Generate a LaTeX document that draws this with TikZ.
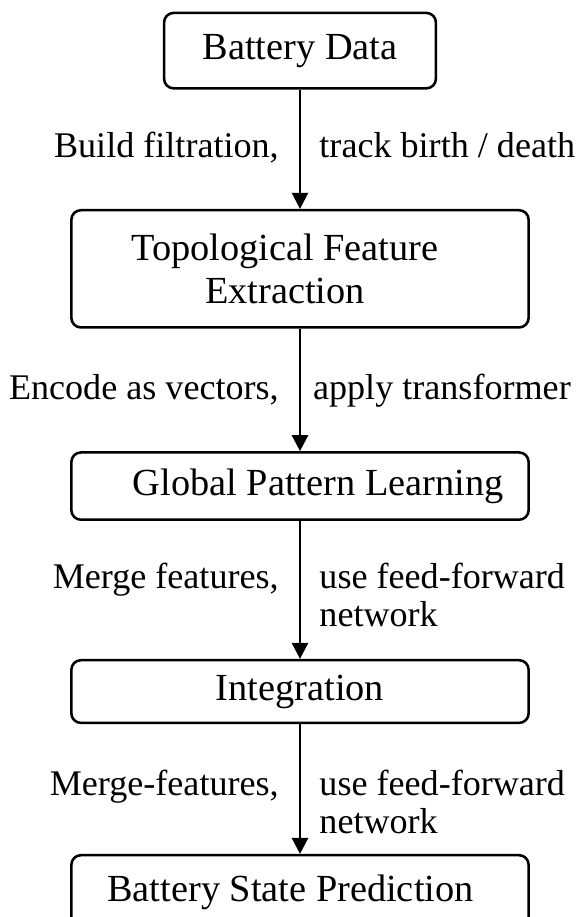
\documentclass[tikz,border=0pt]{standalone}
\usepackage{fontspec}
\setmainfont{Liberation Serif}
\usetikzlibrary{arrows.meta}

\tikzset{
    stagebox/.style={draw, rounded corners=3pt, inner sep=0pt, align=center,
        font=\fontsize{12}{13.5}\selectfont},
    steplabel/.style={inner sep=0pt, font=\fontsize{11.3}{11.8}\selectfont},
}

\begin{document}
\begin{tikzpicture}[>={Triangle[length=5pt, width=5pt]}, thick]

        \useasboundingbox (-3.3, 0) rectangle (3.102, 10.087);

        % Khoi du lieu dau vao
        \node[stagebox, minimum width=2.99cm, minimum height=0.83cm] (data) at (0, 9.53) {Battery Data};

        % Trich xuat dac trung topo
        \node[stagebox, minimum width=5.03cm, minimum height=1.29cm] (topo) at (0, 7.13) {
            Topological Feature\hspace*{0.33cm} \\ Extraction\hspace*{0.33cm}
        };

        % Hoc mau toan cuc
        \node[stagebox, minimum width=5.03cm, minimum height=0.74cm] (global) at (0, 4.74) {\hspace*{0.4cm}Global Pattern Learning};

        % Tich hop
        \node[stagebox, minimum width=5.03cm, minimum height=0.69cm] (integ) at (0, 2.48) {Integration};

        % Du doan trang thai (canh duoi nam ngoai khung)
        \node[stagebox, minimum width=5.03cm, minimum height=0.82cm] (pred) at (0, 0.27) {Battery State Prediction\hspace*{0.21cm}};

        % ========================================================
        % MUI TEN VA NHAN HAI BEN
        % ========================================================

        % DATA -> TOPO
        \draw[->] (data.south) --
            node[pos=0.57, steplabel, anchor=base east, xshift=-0.22cm] {Build filtration,}
            node[pos=0.57, steplabel, anchor=base west, xshift=0.2cm] {track birth / death} (topo.north);

        % TOPO -> GLOBAL
        \draw[->] (topo.south) --
            node[pos=0.58, steplabel, anchor=base east, xshift=-0.22cm] {Encode as vectors,}
            node[pos=0.58, steplabel, anchor=base west, xshift=0.13cm] {apply transformer} (global.north);

        % GLOBAL -> INTEG
        \draw[->] (global.south) --
            node[pos=0.49, steplabel, anchor=base east, xshift=-0.22cm] {Merge features,}
            node[pos=0.49, steplabel, anchor=base west, xshift=0.2cm] {
                \begin{tabular}[t]{@{}l@{}} use feed-forward \\ network \end{tabular}
            } (integ.north);

        % INTEG -> PRED
        \draw[->] (integ.south) --
            node[pos=0.55, steplabel, anchor=base east, xshift=-0.22cm] {Merge-features,}
            node[pos=0.55, steplabel, anchor=base west, xshift=0.2cm] {
                \begin{tabular}[t]{@{}l@{}} use feed-forward \\ network \end{tabular}
            } (pred.north);

    \end{tikzpicture}
\end{document}
